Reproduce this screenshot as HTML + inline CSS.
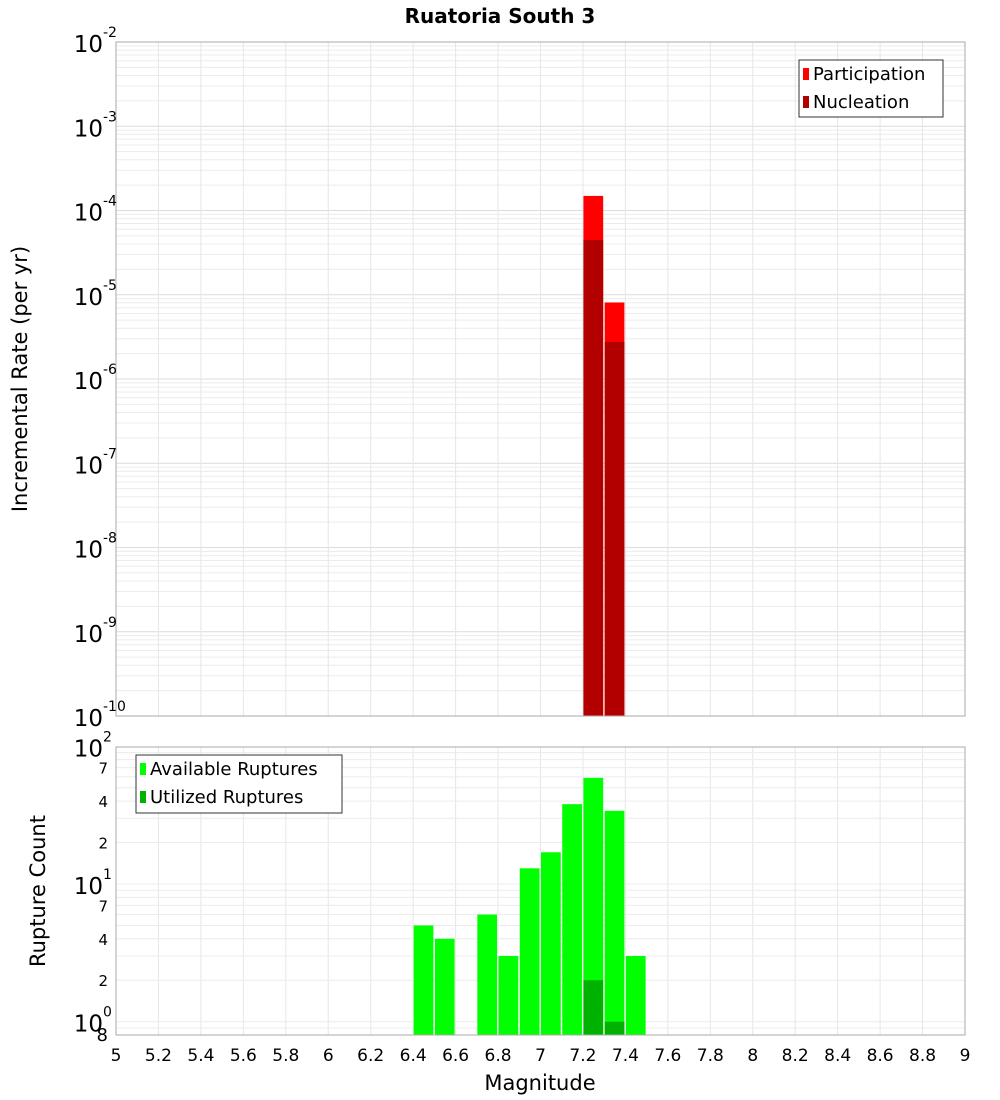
<!DOCTYPE html>
<html><head><meta charset="utf-8"><style>
body{margin:0;background:#fff;}
svg{display:block;font-family:"DejaVu Sans","Liberation Sans",sans-serif;}
</style></head><body>
<svg id="c" width="1000" height="1100" viewBox="0 0 1000 1100" xmlns="http://www.w3.org/2000/svg">
<text x="500" y="23" text-anchor="middle" font-size="20" font-weight="bold">Ruatoria South 3</text>
<text transform="translate(27,379) rotate(-90)" text-anchor="middle" font-size="21">Incremental Rate (per yr)</text>
<text transform="translate(45,891) rotate(-90)" text-anchor="middle" font-size="21">Rupture Count</text>
<text x="540" y="1090" text-anchor="middle" font-size="21">Magnitude</text>
<g id="topg"></g><g id="bot"></g><g id="xt"></g>
</svg>
<script>
const binCenters=[6.45,6.55,6.75,6.85,6.95,7.05,7.15,7.25,7.35,7.45];
const availableCounts=[5,4,6,3,13,17,38,59,34,3];
const utilCenters=[7.25,7.35];
const utilizedCounts=[2,1];
const rateCenters=[7.25,7.35];
const participationRates=[1.49e-4,8.1e-6];
const nucleationRates=[4.47e-5,2.75e-6];
const xTicks=[5,5.2,5.4,5.6,5.8,6,6.2,6.4,6.6,6.8,7,7.2,7.4,7.6,7.8,8,8.2,8.4,8.6,8.8,9];
const topExps=[-2,-3,-4,-5,-6,-7,-8,-9,-10];
const botMajor=[2,1,0];
const botMinor=[[7,70],[4,40],[2,20],[7,7],[4,4],[2,2]];

const NS="http://www.w3.org/2000/svg";
const X0=116,X1=965;
const x=m=>X0+(m-5)/4*(X1-X0);
const TY0=42,TY1=716;
const yt=v=>TY0+(-2-Math.log10(v))/8*(TY1-TY0);
const BY0=746.3,BY1=1035,BDEC=137.7;
const yb=v=>BY0+(2-Math.log10(v))*BDEC;
function el(p,t,a,txt){const e=document.createElementNS(NS,t);for(const k in a)e.setAttribute(k,a[k]);if(txt!==undefined)e.textContent=txt;p.appendChild(e);return e;}
const topG=document.getElementById('topg'),bot=document.getElementById('bot'),xt=document.getElementById('xt');

for(let e=-10;e<-2;e++)for(let k=1;k<10;k++){const y=yt(k*Math.pow(10,e));
 const g=el(topG,'line',{x1:X0,x2:X1,y1:y,y2:y,stroke:k==1?'#dcdcdc':'#ececec','stroke-width':1});
 
 }
for(const t of xTicks){const g=el(topG,'line',{x1:x(t),x2:x(t),y1:TY0,y2:TY1,stroke:'#e6e6e6'});
 
 
 const g2=el(bot,'line',{x1:x(t),x2:x(t),y1:747,y2:BY1,stroke:'#e6e6e6'});
 
 }
for(let e=-1;e<2;e++)for(let k=1;k<10;k++){const v=k*Math.pow(10,e);if(v<0.8)continue;const y=yb(v);
 const g=el(bot,'line',{x1:X0,x2:X1,y1:y,y2:y,stroke:'#ececec'});
 
 }

rateCenters.forEach((c,i)=>{
 const b=el(topG,'rect',{x:x(c-0.05)+0.5,width:x(c+0.05)-x(c-0.05)-1.5,y:yt(participationRates[i]),height:TY1-yt(participationRates[i]),fill:'#ff0000'});
 
 
 const n=el(topG,'rect',{x:x(c-0.05)+0.5,width:x(c+0.05)-x(c-0.05)-1.5,y:yt(nucleationRates[i]),height:TY1-yt(nucleationRates[i]),fill:'#b20000'});
 
 
});
binCenters.forEach((c,i)=>{
 const b=el(bot,'rect',{x:x(c-0.05)+0.5,width:x(c+0.05)-x(c-0.05)-1.5,y:yb(availableCounts[i]),height:BY1-yb(availableCounts[i]),fill:'#00ff00'});
 
 
});
utilCenters.forEach((c,i)=>{
 const b=el(bot,'rect',{x:x(c-0.05)+0.5,width:x(c+0.05)-x(c-0.05)-1.5,y:yb(utilizedCounts[i]),height:BY1-yb(utilizedCounts[i]),fill:'#00b200'});
 
 
});
let f=el(topG,'rect',{x:X0,y:TY0,width:X1-X0,height:TY1-TY0,fill:'none',stroke:'#aaaaaa'});


f=el(bot,'rect',{x:X0,y:747,width:X1-X0,height:BY1-747,fill:'none',stroke:'#aaaaaa'});



topExps.forEach(e=>{const y=yt(Math.pow(10,e));
 const t=el(topG,'text',{x:103,y:y+10,'text-anchor':'end','font-size':23},'10');
 
 
 const s=el(topG,'text',{x:103,y:y-5,'font-size':14},String(e));
 
 });
botMajor.forEach(e=>{const y=yb(Math.pow(10,e));
 const t=el(bot,'text',{x:103,y:y+10,'text-anchor':'end','font-size':23},'10');
 
 
 const s=el(bot,'text',{x:103,y:y-5,'font-size':14},String(e));
 
 });
botMinor.forEach(([lab,v])=>{const y=yb(v);
 const t=el(bot,'text',{x:108,y:y+6,'text-anchor':'end','font-size':15},String(lab));
 
 });
{const t=el(bot,'text',{x:108,y:1041,'text-anchor':'end','font-size':18},'8');
 
 }
xTicks.forEach(v=>{const t=el(xt,'text',{x:x(v),y:1061,'text-anchor':'middle','font-size':17},String(v));
 
 });

function legend(p,bx,by,w,h,items,name){
 const g=el(p,'g',{});
 
 
 el(g,'rect',{x:bx,y:by,width:w,height:h,fill:'#fff',stroke:'#333'});
 items.forEach((it,i)=>{const y=by+14+i*28;
  el(g,'rect',{x:bx+4,y:y-6,width:6,height:12,fill:it[1]});
  el(g,'text',{x:bx+14,y:y+6,'font-size':18},it[0]);});
}
legend(topG,799,60,144,57,[['Participation','#ff0000'],['Nucleation','#b20000']],'top-legend');
legend(bot,136,755,206,58,[['Available Ruptures','#00ff00'],['Utilized Ruptures','#00b200']],'bottom-legend');
</script>
</body></html>
